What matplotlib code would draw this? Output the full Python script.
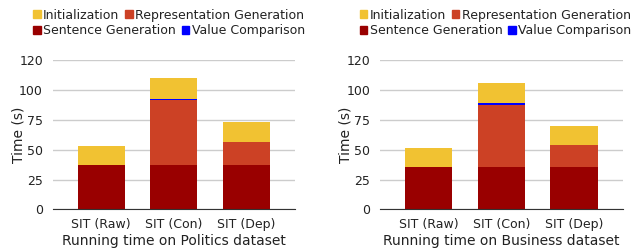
import numpy as np
import matplotlib
matplotlib.use("Agg")
from matplotlib import pyplot as plt
from matplotlib.patches import Patch

categories = ["SIT (Raw)", "SIT (Con)", "SIT (Dep)"]

# politics dataset (seconds)
pol_sentence = [35.6, 35.6, 35.6]
pol_repr = [0.0, 52.4, 18.7]
pol_value = [0.0, 1.1, 0.0]
pol_init = [15.2, 16.3, 15.8]

# business dataset (seconds)
bus_sentence = [34.0, 34.0, 34.0]
bus_repr = [0.0, 49.8, 17.6]
bus_value = [0.0, 1.6, 0.0]
bus_init = [15.5, 16.0, 15.8]

ytick_vals = [0, 24, 48, 72, 96, 120]
ytick_labels = ["0", "25", "50", "75", "100", "120"]

c_init = "#f1c232"
c_repr = "#cc4125"
c_sent = "#990000"
c_val = "#0000ff"

fig = plt.figure(figsize=(6.39, 2.52), dpi=100)


def add_row(handles, x, y):
    leg = fig.legend(handles=handles, ncol=2, loc="center left",
                     bbox_to_anchor=(x, y), frameon=False, fontsize=9,
                     handlelength=0.6, handleheight=0.6, handletextpad=0.2,
                     columnspacing=0.45, borderpad=0, borderaxespad=0,
                     labelcolor="#222222")
    return leg


def draw(ax, sent, rep, val, init, title, legx):
    x = np.arange(len(categories))
    w = 0.65
    sent = np.array(sent)
    rep = np.array(rep)
    val = np.array(val)
    init = np.array(init)
    ax.bar(x, sent, w, color=c_sent, zorder=2)
    ax.bar(x, rep, w, bottom=sent, color=c_repr, zorder=2)
    ax.bar(x, val, w, bottom=sent + rep, color=c_val, zorder=2)
    ax.bar(x, init, w, bottom=sent + rep + val, color=c_init, zorder=2)
    ax.set_xlim(-0.67, 2.67)
    ax.set_ylim(0, 120)
    ax.set_yticks(ytick_vals)
    ax.set_yticklabels(ytick_labels)
    ax.set_xticks(x)
    ax.set_xticklabels(categories)
    ax.tick_params(axis="both", length=0, labelsize=9, colors="#222222")
    ax.tick_params(axis="x", pad=6)
    ax.tick_params(axis="y", pad=7)
    ax.grid(axis="y", color="#cccccc", linewidth=1, zorder=0)
    for s in ["top", "right", "left"]:
        ax.spines[s].set_visible(False)
    ax.spines["bottom"].set_color("#333333")
    ax.spines["bottom"].set_zorder(3)
    ax.set_ylabel("Time (s)", fontsize=10, color="#222222")
    ax.yaxis.set_label_coords(-0.112, 0.5)
    ax.set_xlabel(title, fontsize=10, color="#222222", labelpad=2)

    row1 = [Patch(color=c_init, label="Initialization"),
            Patch(color=c_repr, label="Representation Generation")]
    row2 = [Patch(color=c_sent, label="Sentence Generation"),
            Patch(color=c_val, label="Value Comparison")]
    add_row(row1, legx, 0.940)
    add_row(row2, legx, 0.877)


ax1 = fig.add_axes([0.0825, 0.169, 0.379, 0.592])
draw(ax1, pol_sentence, pol_repr, pol_value, pol_init,
     "Running time on Politics dataset", 0.052)
ax2 = fig.add_axes([0.5947, 0.169, 0.380, 0.592])
draw(ax2, bus_sentence, bus_repr, bus_value, bus_init,
     "Running time on Business dataset", 0.563)

fig.savefig("out.png", dpi=100)
